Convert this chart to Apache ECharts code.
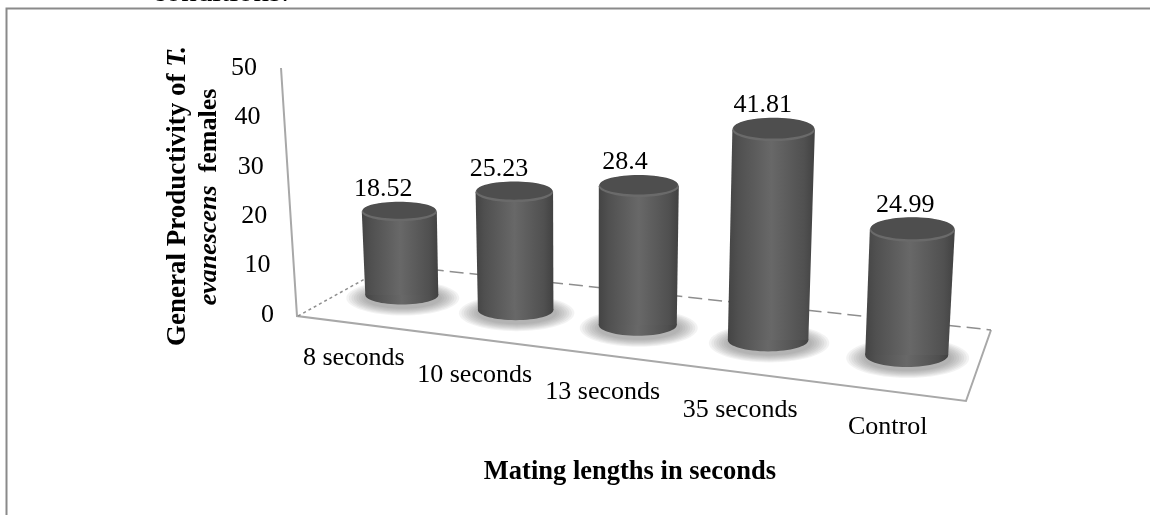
<!DOCTYPE html>
<html>
<head>
<meta charset="utf-8">
<style>
html, body { margin: 0; padding: 0; background: #fff; }
#chart { width: 1150px; height: 515px; }
</style>
</head>
<body>
<div id="chart"></div>
<script src="https://cdn.jsdelivr.net/npm/echarts@6/dist/echarts.min.js"></script>
<script>
var categories = ['8 seconds', '10 seconds', '13 seconds', '35 seconds', 'Control'];
var productivity = [18.52, 25.23, 28.4, 41.81, 24.99];
var valueLabels = ['18.52', '25.23', '28.4', '41.81', '24.99'];
var yTicks = [0, 10, 20, 30, 40, 50];

var serif = '"Liberation Serif", "Times New Roman", serif';
var labelNudge = [-6, 1, 7, 14, 23]; // x labels are not evenly spaced in the original

// the floor is seen at an angle, so a flat grid position gets bent into place
function floorPoint(api, idx) {
    var first = api.coord([0, 0]);
    var last = api.coord([categories.length - 1, 0]);
    var flat = api.coord([idx, 0]);
    var s = (flat[0] - first[0]) / (last[0] - first[0]);
    return {
        s: s,
        x: flat[0] - 66 * s * (1 - s) + 2.5 * s,
        y: flat[1] - 20 + 60 * s
    };
}

function renderCylinder(params, api) {
    var idx = api.value(0);
    var base = floorPoint(api, idx);
    var s = base.s;
    var scale = 0.91 + 0.105 * s + 0.21 * s * s * (1 - s);
    var height = (api.coord([idx, 0])[1] - api.coord([idx, api.value(1)])[1]) * scale;
    var topX = base.x + height * (-0.03 + 0.075 * s);
    var topY = base.y - height;
    var rx = 36.5 + 5 * s;
    var topRx = rx + 1;
    var ry = 9.5 + 2.5 * s;

    var bodyFill = new echarts.graphic.LinearGradient(0, 0, 1, 0, [
        { offset: 0, color: '#444444' },
        { offset: 0.12, color: '#505050' },
        { offset: 0.5, color: '#686868' },
        { offset: 0.88, color: '#505050' },
        { offset: 1, color: '#414141' }
    ]);

    // soft shadow on the floor, stacked rings fade out towards the edge
    var children = [];
    for (var k = 0; k < 8; k++) {
        children.push({
            type: 'ellipse',
            shape: { cx: base.x + 1, cy: base.y + 3, rx: rx + 20 - k * 2.5, ry: ry + 8 - k },
            style: { fill: '#666666', opacity: 0.08 }
        });
    }

    children.push(
        {
            type: 'ellipse',
            shape: { cx: base.x, cy: base.y, rx: rx, ry: ry },
            style: { fill: bodyFill }
        },
        {
            type: 'polygon',
            shape: {
                points: [
                    [topX - topRx, topY],
                    [topX + topRx, topY],
                    [base.x + rx, base.y],
                    [base.x - rx, base.y]
                ]
            },
            style: { fill: bodyFill }
        },
        {
            type: 'ellipse',
            shape: { cx: topX, cy: topY, rx: topRx, ry: ry },
            style: { fill: '#6a6a6a' }
        },
        {
            type: 'ellipse',
            shape: { cx: topX, cy: topY - 1.5, rx: topRx - 1, ry: ry - 1 },
            style: { fill: '#4e4e4e' }
        },
        {
            type: 'text',
            style: {
                x: topX - 16 + 9 * s * s,
                y: topY - ry - 13,
                text: valueLabels[idx],
                fill: '#000',
                font: '26px ' + serif,
                align: 'center',
                verticalAlign: 'middle'
            }
        },
        {
            type: 'text',
            style: {
                x: base.x - 42 + labelNudge[idx],
                y: api.coord([0, 0])[1] + 43 + 69 * s,
                text: categories[idx],
                fill: '#000',
                font: '26px ' + serif,
                align: 'center',
                verticalAlign: 'middle'
            }
        }
    );

    return { type: 'group', children: children };
}

function renderYTick(params, api) {
    var v = api.value(0);
    return {
        type: 'text',
        style: {
            x: 274 - v / 50 * 17,
            y: api.coord([0, v])[1],
            text: String(v),
            fill: '#000',
            font: '26px ' + serif,
            align: 'right',
            verticalAlign: 'middle'
        }
    };
}

var myChart = echarts.init(document.getElementById('chart'));
var option = {
    animation: false,
    backgroundColor: '#fff',
    grid: { left: 339, width: 628, top: 68, height: 247 },
    xAxis: { type: 'category', data: categories, show: false },
    yAxis: { type: 'value', min: 0, max: 50, interval: 10, show: false },
    graphic: [
        // page text cut off above the chart
        { type: 'text', x: 152, y: 8, style: { text: 'conditions.', fill: '#000', font: '31px ' + serif, verticalAlign: 'bottom' } },
        // chart border, only top and left survive the crop
        { type: 'polyline', shape: { points: [[6.5, 515], [6.5, 8.5], [1150, 8.5]] }, style: { stroke: '#8a8a8a', lineWidth: 2, fill: null } },
        // wall and floor
        { type: 'polyline', shape: { points: [[281, 68], [297, 316], [966, 401], [991, 330]] }, style: { stroke: '#a8a8a8', lineWidth: 2, fill: null } },
        { type: 'line', shape: { x1: 298, y1: 316, x2: 390, y2: 265 }, style: { stroke: '#8e8e8e', lineWidth: 1.5, lineDash: [3, 3] } },
        { type: 'line', shape: { x1: 390, y1: 265, x2: 991, y2: 330 }, style: { stroke: '#8e8e8e', lineWidth: 1.5, lineDash: [14, 6] } },
        // axis titles
        {
            type: 'text',
            x: 178, y: 196, rotation: Math.PI / 2,
            style: {
                text: '{b|General Productivity of }{i|T.}',
                align: 'center', verticalAlign: 'middle',
                rich: {
                    b: { font: 'bold 27px ' + serif, fill: '#000' },
                    i: { font: 'italic bold 27px ' + serif, fill: '#000' }
                }
            }
        },
        {
            type: 'text',
            x: 209, y: 197, rotation: Math.PI / 2,
            style: {
                text: '{i|evanescens\u00a0\u00a0}{b|females}',
                align: 'center', verticalAlign: 'middle',
                rich: {
                    b: { font: 'bold 26px ' + serif, fill: '#000' },
                    i: { font: 'italic bold 26px ' + serif, fill: '#000' }
                }
            }
        },
        {
            type: 'text', x: 630, y: 472,
            style: { text: 'Mating lengths in seconds', font: 'bold 26.5px ' + serif, fill: '#000', align: 'center', verticalAlign: 'middle' }
        }
    ],
    series: [
        {
            type: 'custom',
            renderItem: renderYTick,
            data: yTicks.map(function (v) { return [v]; }),
            encode: { y: 0 },
            silent: true
        },
        {
            type: 'custom',
            renderItem: renderCylinder,
            data: productivity.map(function (v, i) { return [i, v]; }),
            encode: { x: 0, y: 1 },
            silent: true,
            clip: false
        }
    ]
};
myChart.setOption(option);
</script>
</body>
</html>
